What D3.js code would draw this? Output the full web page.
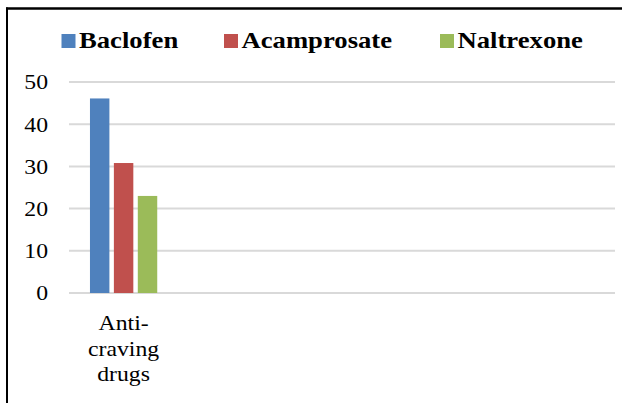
<!DOCTYPE html>
<html>
<head>
<meta charset="utf-8">
<script src="https://cdn.jsdelivr.net/npm/d3@7"></script>
<style>
  html, body { margin: 0; padding: 0; background: #fff; }
  svg { display: block; }
  text { font-family: "Liberation Serif", "Times New Roman", serif; fill: #000; }
</style>
</head>
<body>
<svg id="chart" width="622" height="403"></svg>
<script>
// Category slots along the x axis (only the first one carries data)
const categories = ["Anti-craving drugs", "c2", "c3", "c4", "c5"];
const categoryLabels = [["Anti-", "craving", "drugs"], [], [], [], []];
const seriesNames = ["Baclofen", "Acamprosate", "Naltrexone"];
const seriesColors = ["#4f81bd", "#c0504d", "#9bbb59"];
const baclofen = [46.1];
const acamprosate = [30.8];
const naltrexone = [23];
const yTicks = [0, 10, 20, 30, 40, 50];

const series = [baclofen, acamprosate, naltrexone];
const stretch = 1.13; // glyphs are drawn slightly wide

const svg = d3.select("#chart");
const plot = { left: 69, right: 615, top: 82, bottom: 293 };

// Frame: top and left rules
svg.append("line").attr("x1", 6).attr("x2", 622).attr("y1", 8.5).attr("y2", 8.5)
  .attr("stroke", "#000").attr("stroke-width", 2.5);
svg.append("line").attr("x1", 7).attr("x2", 7).attr("y1", 7.5).attr("y2", 403)
  .attr("stroke", "#000").attr("stroke-width", 2);

const x0 = d3.scaleBand().domain(categories).range([plot.left, plot.right]).padding(0);
const y = d3.scaleLinear().domain([0, 50]).range([plot.bottom, plot.top]);

// Gridlines
svg.append("g").selectAll("line").data(yTicks).join("line")
  .attr("x1", plot.left).attr("x2", plot.right)
  .attr("y1", d => y(d)).attr("y2", d => y(d))
  .attr("stroke", "#d9d9d9").attr("stroke-width", 2);

// Y tick labels
svg.append("g").selectAll("g").data(yTicks).join("g")
  .attr("transform", d => `translate(48,${y(d)}) scale(${stretch},1)`)
  .append("text")
  .attr("text-anchor", "end").attr("dy", "0.35em")
  .attr("font-size", 21)
  .text(d => d);

// Bars
const bw = x0.bandwidth() * 0.178;
const gap = x0.bandwidth() * 0.041;
const groupW = bw * 3 + gap * 2;
const x1 = d3.scaleBand().domain(seriesNames)
  .range([0, groupW]).paddingInner(gap / (bw + gap)).paddingOuter(0);

series.forEach((vals, si) => {
  svg.append("g").selectAll("rect").data(vals).join("rect")
    .attr("x", (d, i) => x0(categories[i]) + (x0.bandwidth() - groupW) / 2 + x1(seriesNames[si]))
    .attr("width", x1.bandwidth())
    .attr("y", d => y(d))
    .attr("height", d => y(0) - y(d))
    .attr("fill", seriesColors[si]);
});

// Category labels
categories.forEach((c, i) => {
  const cx = x0(c) + x0.bandwidth() / 2;
  categoryLabels[i].forEach((line, li) => {
    svg.append("g")
      .attr("transform", `translate(${cx},${330 + li * 25.5}) scale(${stretch},1)`)
      .append("text").attr("text-anchor", "middle").attr("font-size", 21).text(line);
  });
});

// Legend
const legendX = [61.5, 224, 440];
const legend = svg.append("g");
seriesNames.forEach((name, i) => {
  legend.append("rect").attr("x", legendX[i]).attr("y", 34).attr("width", 14).attr("height", 14)
    .attr("fill", seriesColors[i]);
  legend.append("g")
    .attr("transform", `translate(${legendX[i] + 17.5},48.3) scale(${stretch},1)`)
    .append("text").attr("font-size", 23.6).attr("font-weight", "bold").text(name);
});
</script>
</body>
</html>
